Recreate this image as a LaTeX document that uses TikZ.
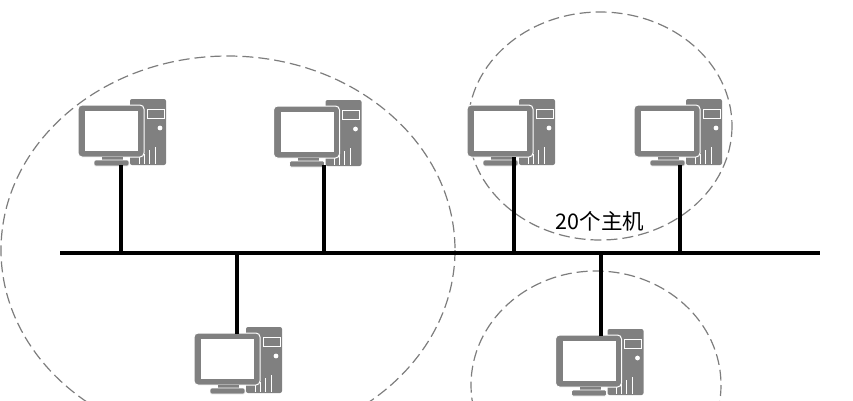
\documentclass[tikz,border=0pt]{standalone}
\usepackage{fontspec}
\setmainfont{Noto Sans CJK SC}
\usetikzlibrary{positioning}
\definecolor{pcgray}{RGB}{128,128,128}
\definecolor{ringgray}{RGB}{125,125,125}
\tikzset{
  wire/.style = {line width = 3.4pt, black},
  ring/.style = {ringgray, line width = 1.2pt, dash pattern = on 11pt off 5pt},
  computer/.pic = {
    \fill[pcgray, rounded corners = 2pt] (9,-66) rectangle (45,0);
    \filldraw[pcgray, draw = white, line width = 1pt] (26,-56) rectangle (43,-47);
    \fill[white] (39,-37) circle (2.4);
    \draw[white, line width = 1pt] (18,-1)--(18,-8) (23,-1)--(23,-11) (28,-1)--(28,-15) (34,-1)--(34,-18);
    \filldraw[pcgray, draw = white, line width = 1pt, rounded corners = 4pt] (-43,-60) rectangle (23,-8);
    \fill[white] (-36,-54) rectangle (17,-14);
    \fill[pcgray] (-19,-8) rectangle (2,-4);
    \filldraw[pcgray, draw = white, line width = .6pt, rounded corners = 1.5pt] (-27,-5) rectangle (8,1);
  }
}
\begin{document}
\begin{tikzpicture}[x = 1pt, y = -1pt]
\useasboundingbox (0,0) rectangle (853,400);

% rings
\draw[ring] (228,250) ellipse [x radius = 227, y radius = 194];
\draw[ring] (600,126) ellipse [x radius = 132, y radius = 114];
\draw[ring] (596,385) ellipse [x radius = 125, y radius = 114];

% bus
\coordinate (busleft) at (60,253);
\coordinate (busright) at (820,253);
\draw[wire] (busleft)--(busright);

% hosts
\coordinate (host1) at (121,165);
\coordinate (host2) at (324,165);
\coordinate (host3) at (514,157);
\coordinate (host4) at (680,165);
\coordinate (host5) at (237,334);
\coordinate (host6) at (601,336);

\pic at (121,165) {computer};
\pic at (316.5,166) {computer};
\pic at (510,165) {computer};
\pic at (677,165) {computer};
\pic at (237,393) {computer};
\pic at (598.5,395) {computer};

\draw[wire] (host1)--(host1 |- busleft);
\draw[wire] (host2)--(host2 |- busleft);
\draw[wire] (host3)--(host3 |- busleft);
\draw[wire] (host4)--(host4 |- busleft);
\draw[wire] (host5)--(host5 |- busleft);
\draw[wire] (host6)--(host6 |- busleft);

\node[font = \fontsize{21.5}{22}\selectfont] (hostcount) at (600,221) {20个主机};
\end{tikzpicture}
\end{document}
